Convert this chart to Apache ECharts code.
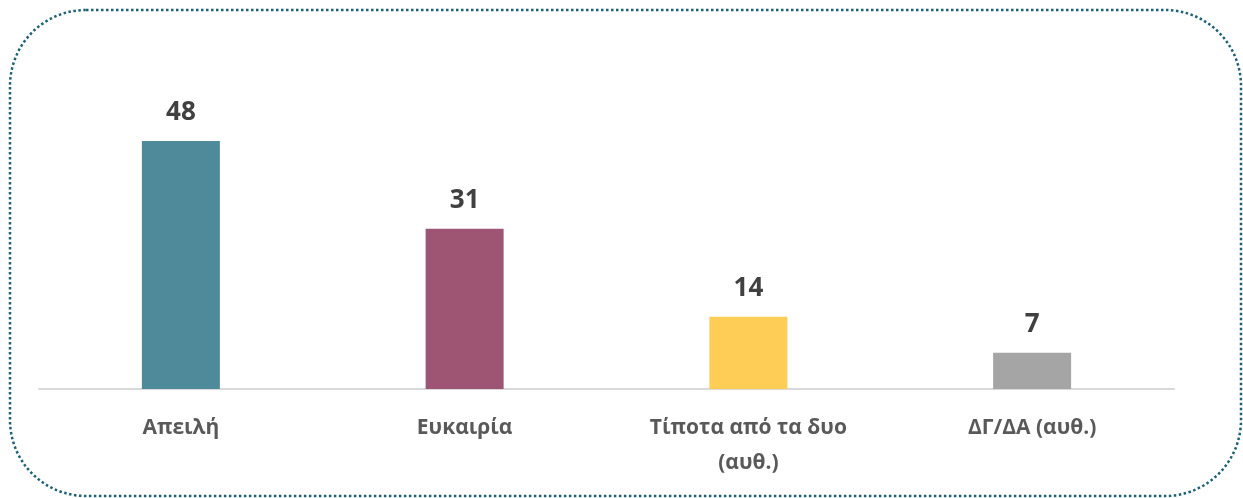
<!DOCTYPE html>
<html>
<head>
	<meta charset="UTF-8">
	<title>Chart</title>
	<script src="https://cdn.jsdelivr.net/npm/echarts@6/dist/echarts.min.js"></script>
	<style>
		html, body { margin: 0; padding: 0; background: #fff; }
		#main { width: 1243px; height: 498px; }
	</style>
</head>
<body>
<div id="main"></div>
<script type="text/javascript">
	var categories = ['Απειλή', 'Ευκαιρία', 'Τίποτα από τα δυο\n(αυθ.)', 'ΔΓ/ΔΑ (αυθ.)'];
	var values = [48, 31, 14, 7];
	var colors = ['#4e8a99', '#9e5574', '#fdcd55', '#a5a5a5'];

	var myChart = echarts.init(document.getElementById('main'));
	var option = {
		animation: false,
		graphic: [{
			type: 'rect',
			shape: { x: 10, y: 10, width: 1231, height: 486, r: 76 },
			style: {
				fill: 'none',
				stroke: '#1d6274',
				lineWidth: 2.5,
				lineDash: [2.5, 2.5]
			},
			silent: true
		}],
		grid: { left: 39, right: 69, top: 79, bottom: 109 },
		xAxis: {
			type: 'category',
			data: categories,
			axisLine: { lineStyle: { color: '#d9d9d9', width: 2 } },
			axisTick: { show: false },
			axisLabel: {
				margin: 22,
				color: '#595959',
				fontFamily: 'Open Sans',
				fontWeight: 'bold',
				fontSize: 21,
				lineHeight: 35
			}
		},
		yAxis: {
			type: 'value',
			min: 0,
			max: 60,
			show: false,
			splitLine: { show: false }
		},
		series: [{
			type: 'bar',
			barWidth: 78,
			data: values.map(function (v, i) {
				return { value: v, itemStyle: { color: colors[i] } };
			}),
			label: {
				show: true,
				position: 'top',
				distance: 15,
				color: '#404040',
				fontFamily: 'Open Sans',
				fontWeight: 'bold',
				fontSize: 26
			}
		}]
	};
	myChart.setOption(option);
</script>
</body>
</html>
